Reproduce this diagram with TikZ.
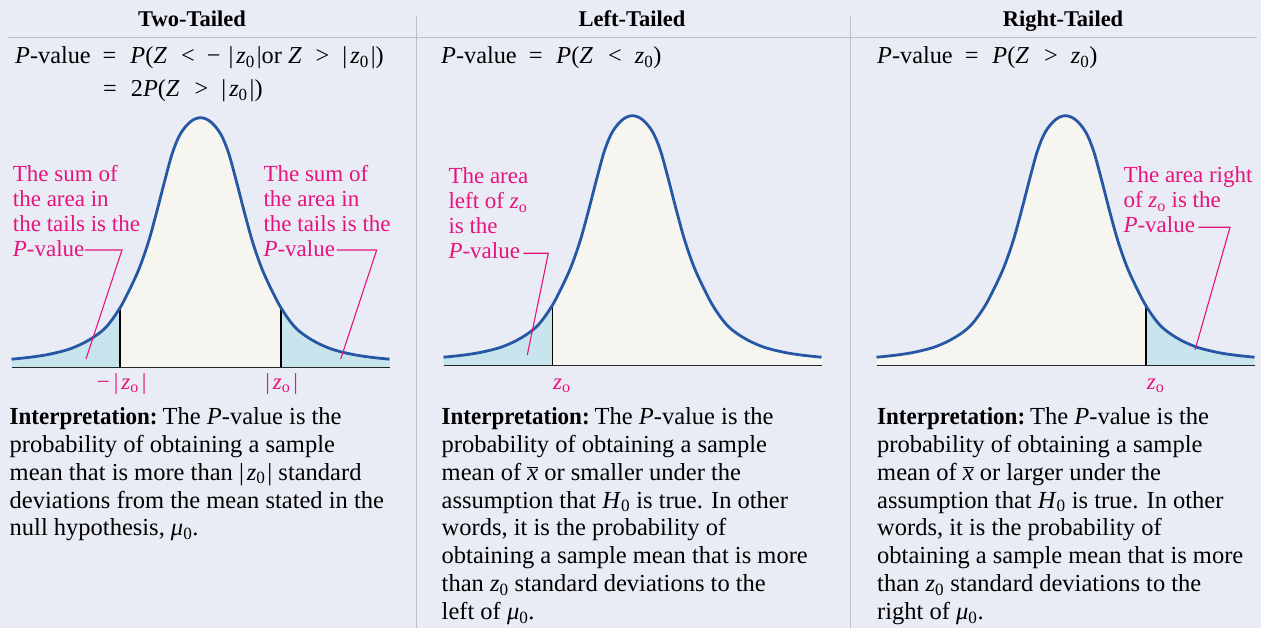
\documentclass[tikz,border=0pt]{standalone}
\usepackage{fontspec}
\setmainfont{Liberation Serif}
\definecolor{bg}{RGB}{233,235,245}
\definecolor{curveblue}{RGB}{38,87,165}
\definecolor{cream}{RGB}{247,245,239}
\definecolor{tailblue}{RGB}{200,228,236}
\definecolor{pinkc}{RGB}{230,20,125}
\definecolor{divgray}{RGB}{190,190,196}
\newcommand{\zzero}{\textit{z}\textsubscript{0}}
\newcommand{\zoh}{\textit{z}\textsubscript{o}}
\newcommand{\muzero}{\textit{μ}\textsubscript{0}}
\newcommand{\Hzero}{\textit{H}\textsubscript{0}}
\newcommand{\xbar}{$\overline{\mbox{\textit{x}}}$}
\newcommand{\bz}{|\hspace{3pt}\zzero\hspace{2pt}|}
\newcommand{\bzo}{|\hspace{3pt}\zoh\hspace{3pt}|}
\newcommand{\interp}{\scalebox{0.94}[1]{\textbf{Interpretation:}}\hspace{5pt}}
\def\bell{plot[smooth,tension=0.55] coordinates {(-189,-8.5) (-170,-10.5) (-151,-13.5) (-130,-19) (-111,-28) (-95,-40) (-81,-59) (-70,-80) (-61,-100) (-52,-126) (-44,-155) (-36,-186) (-28,-215) (-20,-234) (-10,-246) (0,-250) (10,-246) (20,-234) (28,-215) (36,-186) (44,-155) (52,-126) (61,-100) (70,-80) (81,-59) (95,-40) (111,-28) (130,-19) (151,-13.5) (170,-10.5) (189,-8.5)}}
\def\bellarea{\bell -- (189,0) -- (-189,0) -- cycle}
\tikzset{
  hdr/.style={anchor=base, inner sep=0pt, font=\fontsize{22.5}{26}\selectfont\bfseries},
  formula/.style={anchor=base west, inner sep=0pt, font=\fontsize{24.3}{28}\selectfont},
  body/.style={anchor=base west, align=left, inner sep=0pt, font=\fontsize{24.5}{27.9}\selectfont},
  note/.style={anchor=base west, align=left, inner sep=0pt, text=pinkc, font=\fontsize{23}{25}\selectfont},
  zlabel/.style={inner sep=0pt, text=pinkc, font=\fontsize{23}{25}\selectfont},
  leader/.style={draw=pinkc, line width=1.1pt},
  curveline/.style={draw=curveblue, line width=2.8pt},
  cutline/.style={draw=black, line width=1.2pt},
  axisline/.style={draw=black!85, line width=1.5pt},
  divider/.style={draw=divgray, line width=1.4pt},
}
\begin{document}
\begin{tikzpicture}[x=1pt,y=-1pt]
\useasboundingbox (0,0) rectangle (1261,628);
\fill[bg] (0,0) rectangle (1261,628);
% dividers
\coordinate (hl) at (8.3,37.5);
\coordinate (hr) at (1256.7,37.5);
\coordinate (v1t) at (416.7,16);
\coordinate (v1b) at (416.7,628);
\coordinate (v2t) at (850.7,16);
\coordinate (v2b) at (850.7,628);
\draw[divider] (hl) -- (hr);
\draw[divider] (v1t) -- (v1b);
\draw[divider] (v2t) -- (v2b);
% headers
\node[hdr] (h1) at (192,26.5) {Two-Tailed};
\node[hdr] (h2) at (632,26.5) {Left-Tailed};
\node[hdr] (h3) at (1063,26.5) {Right-Tailed};
% formulas
\node[formula] (f1) at (15,64) {\textit{P}-value\hspace{12pt}=\hspace{14pt}\textit{P}(\textit{Z}\hspace{14pt}<\hspace{12pt}−\hspace{8pt}\bz or \textit{Z}\hspace{14pt}>\hspace{13pt}\bz)};
\node[formula] (f1b) at (103,97) {=\hspace{14pt}2\textit{P}(\textit{Z}\hspace{15pt}>\hspace{13pt}\bz)};
\node[formula] (f2) at (441,64) {\textit{P}-value\hspace{12pt}=\hspace{14pt}\textit{P}(\textit{Z}\hspace{15pt}<\hspace{13pt}\zzero)};
\node[formula] (f3) at (877,64) {\textit{P}-value\hspace{12pt}=\hspace{14pt}\textit{P}(\textit{Z}\hspace{15pt}>\hspace{13pt}\zzero)};
% ---------- panel 1 curve
\begin{scope}[shift={(200.5,367.7)}]
  \fill[cream] \bellarea;
  \begin{scope}
    \clip (-200,10) rectangle (-80.5,-300);
    \fill[tailblue] \bellarea;
  \end{scope}
  \begin{scope}
    \clip (80.5,10) rectangle (200,-300);
    \fill[tailblue] \bellarea;
  \end{scope}
  \begin{scope}
    \clip \bellarea;
    \coordinate (c1a) at (-80.5,0);
    \coordinate (c1b) at (-80.5,-260);
    \coordinate (c1c) at (80.5,0);
    \coordinate (c1d) at (80.5,-260);
    \draw[cutline] (c1a) -- (c1b);
    \draw[cutline] (c1c) -- (c1d);
  \end{scope}
  \coordinate (a1l) at (-189,0);
  \coordinate (a1r) at (189,0);
  \draw[axisline] (a1l) -- (a1r);
  \draw[curveline] \bell;
\end{scope}
% ---------- panel 2 curve
\begin{scope}[shift={(632.5,365.7)}]
  \fill[cream] \bellarea;
  \begin{scope}
    \clip (-200,10) rectangle (-80,-300);
    \fill[tailblue] \bellarea;
  \end{scope}
  \begin{scope}
    \clip \bellarea;
    \coordinate (c2a) at (-80,0);
    \coordinate (c2b) at (-80,-260);
    \draw[cutline] (c2a) -- (c2b);
  \end{scope}
  \coordinate (a2l) at (-189,0);
  \coordinate (a2r) at (189,0);
  \draw[axisline] (a2l) -- (a2r);
  \draw[curveline] \bell;
\end{scope}
% ---------- panel 3 curve
\begin{scope}[shift={(1065.5,365.7)}]
  \fill[cream] \bellarea;
  \begin{scope}
    \clip (80.5,10) rectangle (200,-300);
    \fill[tailblue] \bellarea;
  \end{scope}
  \begin{scope}
    \clip \bellarea;
    \coordinate (c3a) at (80.5,0);
    \coordinate (c3b) at (80.5,-260);
    \draw[cutline] (c3a) -- (c3b);
  \end{scope}
  \coordinate (a3l) at (-189,0);
  \coordinate (a3r) at (189,0);
  \draw[axisline] (a3l) -- (a3r);
  \draw[curveline] \bell;
\end{scope}
% ---------- annotations (base = baseline of the last line)
\node[note] (n1) at (12.7,256.7) {The sum of\\the area in\\the tails is the\\\textit{P}-value};
\node[note] (n2) at (263.3,256.7) {The sum of\\the area in\\the tails is the\\\textit{P}-value};
\node[note] (n3) at (448.3,258.3) {The area\\left of \zoh\\is the\\\textit{P}-value};
\node[note] (n4) at (1123.3,232.3) {The area right\\of \zoh\ is the\\\textit{P}-value};
\coordinate (l1a) at (85,250);   \coordinate (l1b) at (122,250);   \coordinate (l1c) at (86,359);
\coordinate (l2a) at (336.7,250); \coordinate (l2b) at (376.7,250); \coordinate (l2c) at (340.7,359);
\coordinate (l3a) at (523.3,253.3); \coordinate (l3b) at (548.3,253.3); \coordinate (l3c) at (527.3,355);
\coordinate (l4a) at (1198.3,227.3); \coordinate (l4b) at (1230,227.3); \coordinate (l4c) at (1195,350);
\draw[leader] (l1a) -- (l1b) -- (l1c);
\draw[leader] (l2a) -- (l2b) -- (l2c);
\draw[leader] (l3a) -- (l3b) -- (l3c);
\draw[leader] (l4a) -- (l4b) -- (l4c);
% ---------- axis labels
\node[zlabel, anchor=base] (z1) at (121.7,389) {−\hspace{4pt}\bzo};
\node[zlabel, anchor=base] (z2) at (281.7,389) {\bzo};
\node[zlabel, anchor=base west] (z3) at (553,389) {\zoh};
\node[zlabel, anchor=base west] (z4) at (1146.7,389) {\zoh};
% ---------- interpretations (base = baseline of the last line)
\node[body] (b1) at (9.5,535.9) {\interp The \textit{P}-value is the\\probability of obtaining a sample\\mean that is more than \bz{} standard\\deviations from the mean stated in the\\null hypothesis, \muzero.};
\node[body] (b2) at (441.5,619.6) {\interp The \textit{P}-value is the\\probability of obtaining a sample\\mean of \xbar{} or smaller under the\\assumption that \Hzero{} is true. In other\\words, it is the probability of\\obtaining a sample mean that is more\\than \zzero{} standard deviations to the\\left of \muzero.};
\node[body] (b3) at (877,619.6) {\interp The \textit{P}-value is the\\probability of obtaining a sample\\mean of \xbar{} or larger under the\\assumption that \Hzero{} is true. In other\\words, it is the probability of\\obtaining a sample mean that is more\\than \zzero{} standard deviations to the\\right of \muzero.};
\end{tikzpicture}
\end{document}
